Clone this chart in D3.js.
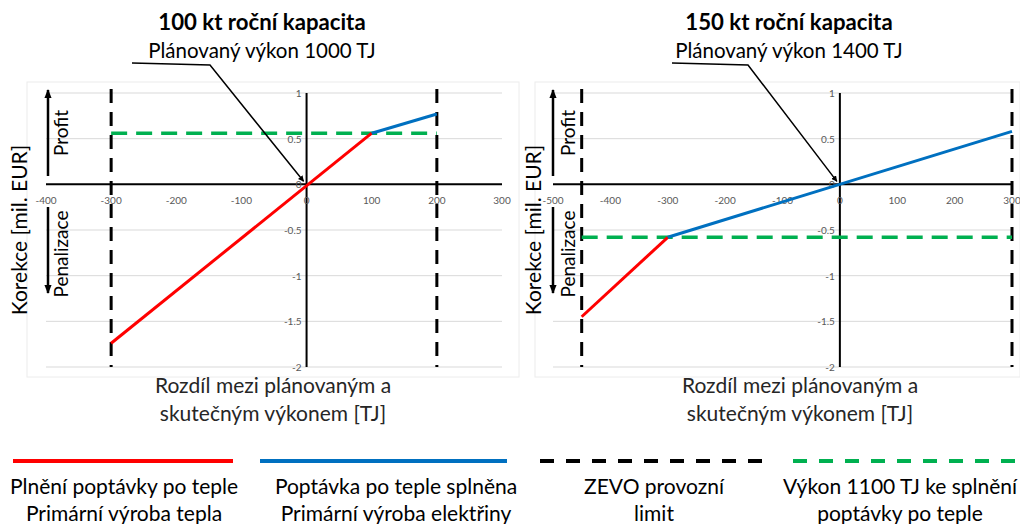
<!DOCTYPE html>
<html>
<head>
<meta charset="utf-8">
<script src="https://cdn.jsdelivr.net/npm/d3@7"></script>
<style>
  body { margin: 0; background: #fff; }
  svg { display: block; }
  text { font-family: Lato, "Open Sans", sans-serif; }
</style>
</head>
<body>
<svg id="chart" width="1020" height="524"></svg>
<script>
// --- data ---
const yTicks = [-2, -1.5, -1, -0.5, 0, 0.5, 1];
const xTicksLeft = [-400, -300, -200, -100, 0, 100, 200, 300];
const xTicksRight = [-500, -400, -300, -200, -100, 0, 100, 200, 300];

// 100 kt
const leftRedX = [-300, 100];
const leftRedY = [-1.74, 0.56];
const leftBlueX = [100, 200];
const leftBlueY = [0.56, 0.77];
const leftGreenX = [-300, 200];
const leftGreenY = 0.56;
const leftLimits = [-300, 200];

// 150 kt
const rightRedX = [-450, -300];
const rightRedY = [-1.45, -0.58];
const rightBlueX = [-300, 300];
const rightBlueY = [-0.58, 0.58];
const rightGreenX = [-450, 300];
const rightGreenY = -0.58;
const rightLimits = [-450, 300];

const titles = ["100 kt roční kapacita", "150 kt roční kapacita"];
const subtitles = ["Plánovaný výkon 1000 TJ", "Plánovaný výkon 1400 TJ"];
const legendLabels = [
  ["Plnění poptávky po teple", "Primární výroba tepla"],
  ["Poptávka po teple splněna", "Primární výroba elektřiny"],
  ["ZEVO provozní", "limit"],
  ["Výkon 1100 TJ ke splnění", "poptávky po teple"]
];

const RED = "#ff0000", BLUE = "#0070c0", GREEN = "#00b050", BLACK = "#000";

const svg = d3.select("#chart");

const defs = svg.append("defs");
defs.append("marker")
  .attr("id", "arrow")
  .attr("viewBox", "0 0 10 10")
  .attr("refX", 9).attr("refY", 5)
  .attr("markerWidth", 6).attr("markerHeight", 6)
  .attr("markerUnits", "userSpaceOnUse")
  .attr("orient", "auto")
  .append("path").attr("d", "M0,0L10,5L0,10Z").attr("fill", "#000");
defs.append("marker")
  .attr("id", "arrowBig")
  .attr("viewBox", "0 0 10 10")
  .attr("refX", 9).attr("refY", 5)
  .attr("markerWidth", 9).attr("markerHeight", 9)
  .attr("markerUnits", "userSpaceOnUse")
  .attr("orient", "auto")
  .append("path").attr("d", "M0,1L10,5L0,9Z").attr("fill", "#000");

const panels = [
  {
    box: [27, 519], range: [46, 502], domain: [-400, 300], ticks: xTicksLeft,
    red: [leftRedX, leftRedY], blue: [leftBlueX, leftBlueY],
    greenX: leftGreenX, greenY: leftGreenY, limits: leftLimits,
    title: titles[0], subtitle: subtitles[0], cx: 262,
    leader: [[132, 63], [210, 65]], yTitleX: 20, arrowX: 48, labelX: 61
  },
  {
    box: [535, 1020], range: [553, 1012], domain: [-500, 300], ticks: xTicksRight,
    red: [rightRedX, rightRedY], blue: [rightBlueX, rightBlueY],
    greenX: rightGreenX, greenY: rightGreenY, limits: rightLimits,
    title: titles[1], subtitle: subtitles[1], cx: 789,
    leader: [[672, 63], [748, 65]], yTitleX: 534, arrowX: 553, labelX: 568
  }
];

const y = d3.scaleLinear().domain([-2, 1]).range([367, 93]);

panels.forEach(p => {
  const x = d3.scaleLinear().domain(p.domain).range(p.range);
  const g = svg.append("g");

  // plot frame
  g.append("rect")
    .attr("x", p.box[0]).attr("y", 82)
    .attr("width", p.box[1] - p.box[0]).attr("height", 295)
    .attr("fill", "none").attr("stroke", "#ececec").attr("stroke-width", 1);

  // gridlines
  g.selectAll(".grid").data(yTicks.filter(d => d !== 0)).join("line")
    .attr("x1", p.range[0]).attr("x2", p.range[1])
    .attr("y1", d => y(d)).attr("y2", d => y(d))
    .attr("stroke", "#d9d9d9").attr("stroke-width", 1);

  // axes
  g.append("line")
    .attr("x1", p.range[0]).attr("x2", p.range[1])
    .attr("y1", y(0)).attr("y2", y(0))
    .attr("stroke", BLACK).attr("stroke-width", 2);
  g.append("line")
    .attr("x1", x(0)).attr("x2", x(0))
    .attr("y1", y(1)).attr("y2", y(-2))
    .attr("stroke", BLACK).attr("stroke-width", 2);

  // tick labels
  g.selectAll(".xt").data(p.ticks).join("text")
    .attr("x", d => x(d)).attr("y", y(0) + 20)
    .attr("text-anchor", "middle")
    .attr("font-size", 10).attr("fill", "#595959")
    .text(d => d);
  g.selectAll(".yt").data(yTicks).join("text")
    .attr("x", x(0) - 5).attr("y", d => y(d) + 4)
    .attr("text-anchor", "end")
    .attr("font-size", 10).attr("fill", "#595959")
    .text(d => d);

  const line = d3.line().x(d => x(d[0])).y(d => y(d[1]));

  // ZEVO limits
  g.selectAll(".lim").data(p.limits).join("line")
    .attr("x1", d => x(d)).attr("x2", d => x(d))
    .attr("y1", y(1) - 4).attr("y2", y(-2))
    .attr("stroke", BLACK).attr("stroke-width", 3)
    .attr("stroke-dasharray", "14 9");

  // green demand level
  g.append("path")
    .attr("d", line(p.greenX.map(v => [v, p.greenY])))
    .attr("fill", "none").attr("stroke", GREEN).attr("stroke-width", 3.5)
    .attr("stroke-dasharray", "16 9");

  // series
  g.append("path")
    .attr("d", line(d3.zip(p.red[0], p.red[1])))
    .attr("fill", "none").attr("stroke", RED).attr("stroke-width", 3);
  g.append("path")
    .attr("d", line(d3.zip(p.blue[0], p.blue[1])))
    .attr("fill", "none").attr("stroke", BLUE).attr("stroke-width", 3);

  // titles
  g.append("text")
    .attr("x", p.cx).attr("y", 30).attr("text-anchor", "middle")
    .attr("font-size", 22.2).attr("font-weight", "bold").attr("fill", "#000")
    .text(p.title);
  g.append("text")
    .attr("x", p.cx).attr("y", 58).attr("text-anchor", "middle")
    .attr("font-size", 20.5).attr("fill", "#000")
    .text(p.subtitle);

  // leader arrow to planned output
  g.append("path")
    .attr("d", d3.line()([...p.leader, [x(0) - 3, y(0) - 3]]))
    .attr("fill", "none").attr("stroke", BLACK).attr("stroke-width", 1.5)
    .attr("marker-end", "url(#arrow)");

  // y title
  g.append("text")
    .attr("transform", `translate(${p.yTitleX},230) rotate(-90)`)
    .attr("text-anchor", "middle").attr("dy", "0.35em")
    .attr("font-size", 21).attr("fill", "#000")
    .text("Korekce [mil. EUR]");

  // profit / penalizace arrows
  g.append("line")
    .attr("x1", p.arrowX).attr("x2", p.arrowX)
    .attr("y1", 176).attr("y2", y(1) - 3)
    .attr("stroke", BLACK).attr("stroke-width", 2.5)
    .attr("marker-end", "url(#arrowBig)");
  g.append("line")
    .attr("x1", p.arrowX).attr("x2", p.arrowX)
    .attr("y1", 207).attr("y2", 293)
    .attr("stroke", BLACK).attr("stroke-width", 2.5)
    .attr("marker-end", "url(#arrowBig)");
  g.append("text")
    .attr("transform", `translate(${p.labelX},133) rotate(-90)`)
    .attr("text-anchor", "middle").attr("dy", "0.35em")
    .attr("font-size", 19).attr("fill", "#000")
    .text("Profit");
  g.append("text")
    .attr("transform", `translate(${p.labelX},254) rotate(-90)`)
    .attr("text-anchor", "middle").attr("dy", "0.35em")
    .attr("font-size", 19).attr("fill", "#000")
    .text("Penalizace");

  // x title
  const xt = g.append("text")
    .attr("text-anchor", "middle").attr("font-size", 21).attr("fill", "#262626");
  xt.append("tspan").attr("x", p.cx + 11).attr("y", 393).text("Rozdíl mezi plánovaným a");
  xt.append("tspan").attr("x", p.cx + 11).attr("y", 421).text("skutečným výkonem [TJ]");
});

// legend
const legendItems = [
  { color: RED, dash: null, x0: 13, x1: 233, cx: 124 },
  { color: BLUE, dash: null, x0: 260, x1: 507, cx: 396 },
  { color: BLACK, dash: "14 12", x0: 540, x1: 762, cx: 654 },
  { color: GREEN, dash: "14 12", x0: 793, x1: 1020, cx: 900 }
];
const lg = svg.append("g");
legendItems.forEach((d, i) => {
  lg.append("line")
    .attr("x1", d.x0).attr("x2", d.x1).attr("y1", 461).attr("y2", 461)
    .attr("stroke", d.color).attr("stroke-width", 4)
    .attr("stroke-dasharray", d.dash);
  const t = lg.append("text")
    .attr("text-anchor", "middle").attr("font-size", 21).attr("fill", "#000");
  legendLabels[i].forEach((s, j) => {
    t.append("tspan").attr("x", d.cx).attr("y", 494 + j * 27).text(s);
  });
});
</script>
</body>
</html>
